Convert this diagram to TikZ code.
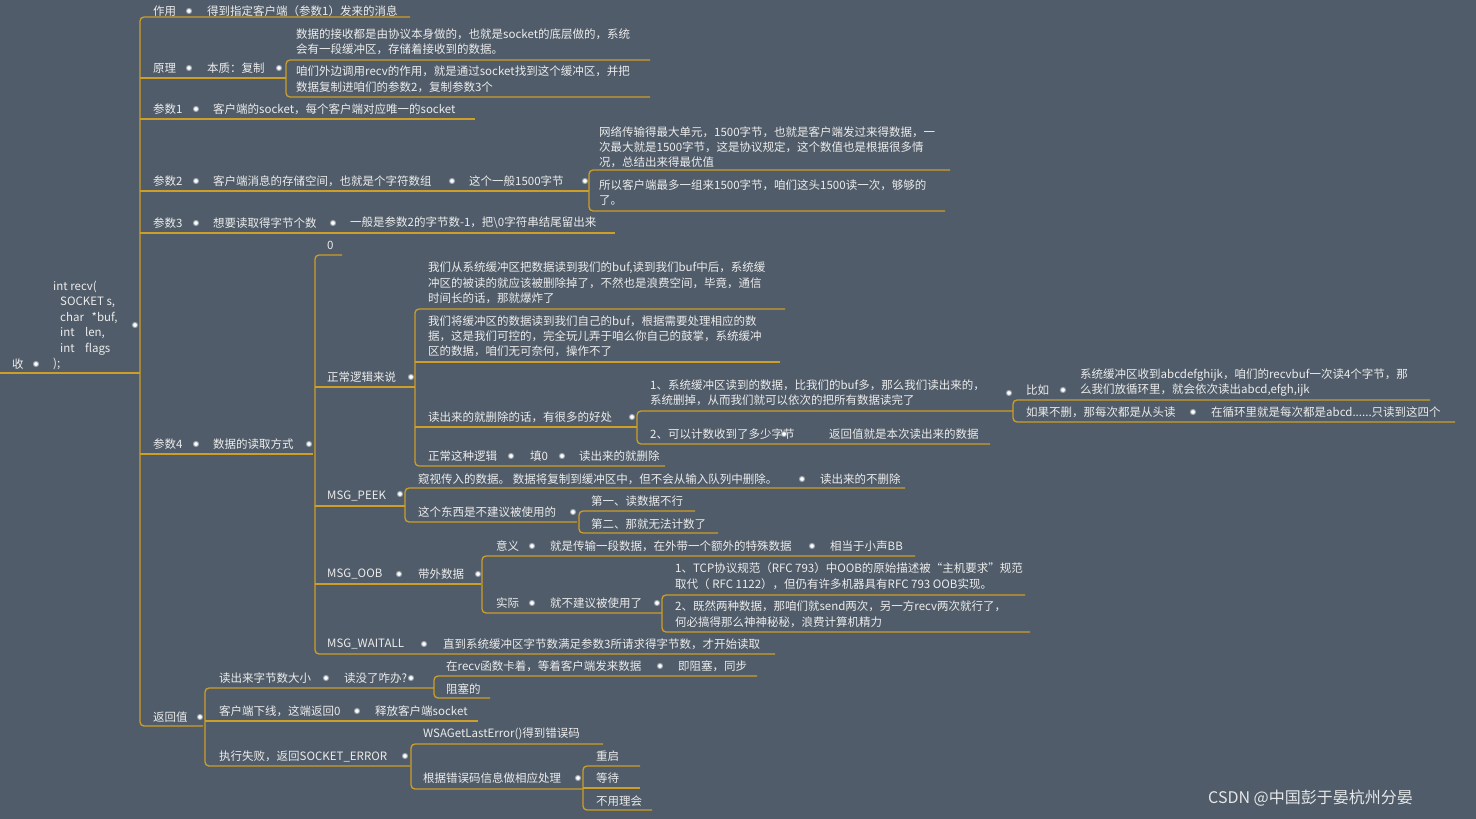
\documentclass[tikz,border=0pt]{standalone}
\usepackage{fontspec}
\setmainfont{Noto Sans CJK SC}
\definecolor{bg}{RGB}{80,92,105}
\definecolor{gold}{RGB}{205,158,40}
\definecolor{tw}{RGB}{236,236,236}
\definecolor{dotb}{RGB}{150,160,172}
\newcommand\tx[4]{\node[txt] (#1) at (#2,#3) {#4};}
\newcommand\dt[2]{\filldraw[fill=white,draw=dotb,line width=1pt] (#1,#2) circle (2.6);}
\newcommand\hl[3]{\draw[ln] (#1,#3) -- (#2,#3);}
% bracket: x, y1, end1, y2, end2
\newcommand\br[5]{\draw[ln,rounded corners=4] (#3,#2) -- (#1,#2) -- (#1,#4) -- (#5,#4);}
\begin{document}
\begin{tikzpicture}[x=1pt,y=-1pt,
  txt/.style={anchor=west,inner sep=0pt,text=tw,font=\fontsize{11.5}{14}\selectfont},
  ln/.style={draw=gold,line width=1.3pt}]
\fill[bg] (0,0) rectangle (1476,819);
\useasboundingbox (0,0) rectangle (1476,819);
% root
\draw[ln] (0,373) -- (140,373);
\tx{shou}{12}{364}{收}\dt{36}{364}
\tx{r1}{53}{287}{int recv(}
\tx{r2}{60}{302}{SOCKET s,}
\tx{r3}{60}{318}{char\ \ \ *buf,}
\tx{r4}{60}{333}{int\ \ \ \ len,}
\tx{r5}{60}{349}{int\ \ \ \ flags}
\tx{r6}{53}{364}{);}
\dt{135}{325}
% main bracket
\br{140}{17}{410}{726}{203}
% 作用
\tx{zy}{153}{11}{作用}\dt{189}{11}\tx{zy1}{207}{11}{得到指定客户端（参数1）发来的消息}
% 原理
\hl{140}{286}{78}
\tx{yl}{153}{68}{原理}\dt{189}{68}\tx{yl1}{207}{68}{本质：复制}\dt{279}{68}
\br{286}{60}{650}{97}{650}
\tx{yl2a}{296}{34}{数据的接收都是由协议本身做的，也就是socket的底层做的，系统}
\tx{yl2b}{296}{49}{会有一段缓冲区，存储着接收到的数据。}
\tx{yl3a}{296}{71}{咱们外边调用recv的作用，就是通过socket找到这个缓冲区，并把}
\tx{yl3b}{296}{87}{数据复制进咱们的参数2，复制参数3个}
% 参数1
\hl{140}{475}{119}
\tx{p1}{153}{109}{参数1}\dt{196}{109}\tx{p1a}{213}{109}{客户端的socket，每个客户端对应唯一的socket}
% 参数2
\hl{140}{589}{191}
\tx{p2}{153}{181}{参数2}\dt{196}{181}\tx{p2a}{213}{181}{客户端消息的存储空间，也就是个字符数组}\dt{452}{181}
\tx{p2b}{469}{181}{这个一般1500字节}\dt{585}{181}
\br{589}{170}{950}{211}{945}
\tx{p2c1}{599}{132}{网络传输得最大单元，1500字节，也就是客户端发过来得数据，一}
\tx{p2c2}{599}{147}{次最大就是1500字节，这是协议规定，这个数值也是根据很多情}
\tx{p2c3}{599}{162}{况，总结出来得最优值}
\tx{p2d1}{599}{185}{所以客户端最多一组来1500字节，咱们这头1500读一次，够够的}
\tx{p2d2}{599}{201}{了。}
% 参数3
\hl{140}{615}{233}
\tx{p3}{153}{223}{参数3}\dt{196}{223}\tx{p3a}{213}{223}{想要读取得字节个数}\dt{333}{223}
\tx{p3b}{350}{223}{一般是参数2的字节数-1，把\textbackslash0字符串结尾留出来}
% 参数4
\hl{140}{313}{454}
\tx{p4}{153}{444}{参数4}\dt{196}{444}\tx{p4a}{213}{444}{数据的读取方式}\dt{309}{444}
\br{315}{255}{342}{654}{775}
\tx{zero}{327}{245}{0}
% 正常逻辑来说
\hl{315}{415}{387}
\tx{zc}{327}{377}{正常逻辑来说}\dt{411}{377}
\br{415}{309}{785}{466}{665}
\tx{zc1a}{428}{268}{我们从系统缓冲区把数据读到我们的buf,读到我们buf中后，系统缓}
\tx{zc1b}{428}{283}{冲区的被读的就应该被删除掉了，不然也是浪费空间，毕竟，通信}
\tx{zc1c}{428}{298}{时间长的话，那就爆炸了}
\hl{415}{780}{362}
\tx{zc2a}{428}{321}{我们将缓冲区的数据读到我们自己的buf，根据需要处理相应的数}
\tx{zc2b}{428}{336}{据，这是我们可控的，完全玩儿弄于咱么你自己的鼓掌，系统缓冲}
\tx{zc2c}{428}{351}{区的数据，咱们无可奈何，操作不了}
\hl{415}{637}{427}
\tx{zc3}{428}{417}{读出来的就删除的话，有很多的好处}\dt{632}{417}
\br{637}{411}{1013}{444}{990}
\tx{h1a}{650}{385}{1、系统缓冲区读到的数据，比我们的buf多，那么我们读出来的，}
\tx{h1b}{650}{400}{系统删掉，从而我们就可以依次的把所有数据读完了}\dt{1009}{393}
\br{1013}{400}{1430}{422}{1455}
\tx{bz}{1026}{390}{比如}\dt{1063}{390}
\tx{bz1}{1080}{375}{系统缓冲区收到abcdefghijk，咱们的recvbuf一次读4个字节，那}
\tx{bz2}{1080}{390}{么我们放循环里，就会依次读出abcd,efgh,ijk}
\tx{bs}{1026}{412}{如果不删，那每次都是从头读}\dt{1193}{412}
\tx{bs1}{1211}{412}{在循环里就是每次都是abcd......只读到这四个}
\tx{h2}{650}{434}{2、可以计数收到了多少字节}\dt{784}{434}\tx{h2a}{829}{434}{返回值就是本次读出来的数据}
\tx{zz}{428}{456}{正常这种逻辑}\dt{511}{456}\tx{zz1}{530}{456}{填0}\dt{562}{456}\tx{zz2}{579}{456}{读出来的就删除}
% MSG_PEEK
\hl{315}{405}{506}
\tx{pk}{327}{496}{MSG\_PEEK}\dt{400}{494}
\br{405}{488}{905}{522}{577}
\tx{pk1}{418}{479}{窥视传入的数据。 数据将复制到缓冲区中，但不会从输入队列中删除。}\dt{802}{479}
\tx{pk1a}{820}{479}{读出来的不删除}
\tx{pk2}{418}{512}{这个东西是不建议被使用的}\dt{573}{512}
\br{579}{511}{695}{533}{718}
\tx{pk2a}{591}{501}{第一、读数据不行}
\tx{pk2b}{591}{524}{第二、那就无法计数了}
% MSG_OOB
\hl{315}{481}{584}
\tx{oob}{327}{574}{MSG\_OOB}\dt{399}{574}\tx{oob1}{418}{574}{带外数据}\dt{478}{574}
\br{482}{556}{915}{613}{662}
\tx{yy}{496}{546}{意义}\dt{532}{546}\tx{yy1}{550}{546}{就是传输一段数据，在外带一个额外的特殊数据}\dt{812}{546}
\tx{yy2}{830}{546}{相当于小声BB}
\tx{sj}{496}{603}{实际}\dt{532}{603}\tx{sj1}{550}{603}{就不建议被使用了}\dt{657}{603}
\br{662}{595}{1025}{632}{1030}
\tx{sj2a}{675}{568}{1、TCP协议规范（RFC 793）中OOB的原始描述被“主机要求”规范}
\tx{sj2b}{675}{584}{取代（ RFC 1122），但仍有许多机器具有RFC 793 OOB实现。}
\tx{sj3a}{675}{606}{2、既然两种数据，那咱们就send两次，另一方recv两次就行了，}
\tx{sj3b}{675}{622}{何必搞得那么神神秘秘，浪费计算机精力}
% MSG_WAITALL
\tx{wa}{327}{644}{MSG\_WAITALL}\dt{424}{644}\tx{wa1}{443}{644}{直到系统缓冲区字节数满足参数3所请求得字节数，才开始读取}
% 返回值
\tx{fh}{153}{717}{返回值}\dt{200}{717}
\br{205}{688}{434}{766}{410}
\tx{f1}{219}{678}{读出来字节数大小}\dt{326}{678}\tx{f1a}{344}{678}{读没了咋办?}\dt{411}{678}
\br{434}{676}{757}{698}{490}
\tx{f1b}{446}{666}{在recv函数卡着，等着客户端发来数据}\dt{660}{666}\tx{f1c}{678}{666}{即阻塞，同步}
\tx{f1d}{446}{689}{阻塞的}
\hl{205}{478}{721}
\tx{f2}{219}{711}{客户端下线，这端返回0}\dt{357}{711}\tx{f2a}{375}{711}{释放客户端socket}
\tx{f3}{219}{756}{执行失败，返回SOCKET\_ERROR}\dt{405}{756}
\br{411}{744}{603}{789}{583}
\tx{f3a}{423}{734}{WSAGetLastError()得到错误码}
\tx{f3b}{423}{778}{根据错误码信息做相应处理}\dt{578}{778}
\br{583}{766}{640}{810}{652}
\hl{583}{640}{788}
\tx{f3c}{596}{756}{重启}
\tx{f3d}{596}{778}{等待}
\tx{f3e}{596}{801}{不用理会}
% watermark
\node[anchor=west,inner sep=0pt,text=white!85!bg,font=\fontsize{16}{18}\selectfont] (wm) at (1208,798) {CSDN @中国彭于晏杭州分晏};
\end{tikzpicture}
\end{document}
